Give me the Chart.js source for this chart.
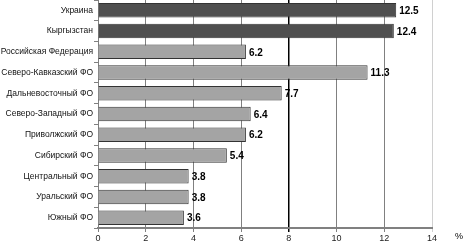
<!DOCTYPE html>
<html>
<head>
<meta charset="utf-8">
<script src="https://cdn.jsdelivr.net/npm/chart.js@4/dist/chart.umd.min.js"></script>
<style>
  html, body { margin: 0; padding: 0; background: #fff; }
  #wrap { width: 463px; height: 244px; position: relative; }
</style>
</head>
<body>
<div id="wrap"><canvas id="barChart"></canvas></div>
<script>
// chart data
const regions = ['Украина', 'Кыргызстан', 'Российская Федерация', 'Северо-Кавказский ФО',
  'Дальневосточный ФО', 'Северо-Западный ФО', 'Приволжский ФО', 'Сибирский ФО',
  'Центральный ФО', 'Уральский ФО', 'Южный ФО'];
const values = [12.5, 12.4, 6.2, 11.3, 7.7, 6.4, 6.2, 5.4, 3.8, 3.8, 3.6];
const darkBars = ['Украина', 'Кыргызстан'];
const xTicks = [0, 2, 4, 6, 8, 10, 12, 14];

// value labels at end of bars + "%" unit label
const valueLabels = {
  id: 'valueLabels',
  afterDatasetsDraw(chart) {
    const c = chart.ctx;
    const meta = chart.getDatasetMeta(0);
    c.save();
    c.font = 'bold 10px "Liberation Sans", Arial, sans-serif';
    c.fillStyle = '#000';
    c.textBaseline = 'middle';
    c.textAlign = 'left';
    meta.data.forEach((bar, i) => {
      c.fillText(values[i].toFixed(1), bar.x + 3, bar.y + 1);
    });
    c.font = '9px "Liberation Sans", Arial, sans-serif';
    c.fillText('%', chart.chartArea.right + 23, chart.chartArea.bottom + 9);
    c.restore();
  }
};

const ctx = document.getElementById('barChart').getContext('2d');
const barChart = new Chart(ctx, {
  type: 'bar',
  data: {
    labels: regions,
    datasets: [{
      data: values,
      backgroundColor: regions.map(r => darkBars.includes(r) ? '#4f4f4f' : '#a4a4a4'),
      borderColor: '#333',
      borderWidth: 1,
      categoryPercentage: 0.7,
      barPercentage: 1
    }]
  },
  options: {
    indexAxis: 'y',
    responsive: true,
    maintainAspectRatio: false,
    animation: false,
    layout: { padding: { top: 0, right: 31, bottom: 0, left: 0 } },
    plugins: { legend: { display: false }, tooltip: { enabled: false } },
    scales: {
      x: {
        min: 0,
        max: 14,
        afterBuildTicks(scale) { scale.ticks = xTicks.map(v => ({ value: v })); },
        afterFit(scale) { scale.height = 16; },
        border: { color: '#808080', width: 2 },
        grid: {
          color: c => c.tick && c.tick.value === 8 ? '#000' : (c.tick && c.tick.value === 14 ? '#d0d0d0' : '#808080'),
          lineWidth: c => c.tick && c.tick.value === 8 ? 1.5 : 1,
          tickLength: 4
        },
        ticks: {
          padding: 1,
          color: '#222',
          font: { size: 9, family: '"Liberation Sans", Arial, sans-serif' }
        }
      },
      y: {
        afterFit(scale) {
          scale.width = 98;
          scale.paddingTop = 0;
          scale.paddingBottom = 0;
        },
        border: { color: '#808080', width: 1 },
        grid: { drawOnChartArea: false, offset: true, tickLength: 4, color: '#808080' },
        ticks: {
          padding: 1,
          color: '#111',
          font: { size: 8.5, family: '"Liberation Sans", Arial, sans-serif' }
        }
      }
    }
  },
  plugins: [valueLabels]
});
</script>
</body>
</html>
